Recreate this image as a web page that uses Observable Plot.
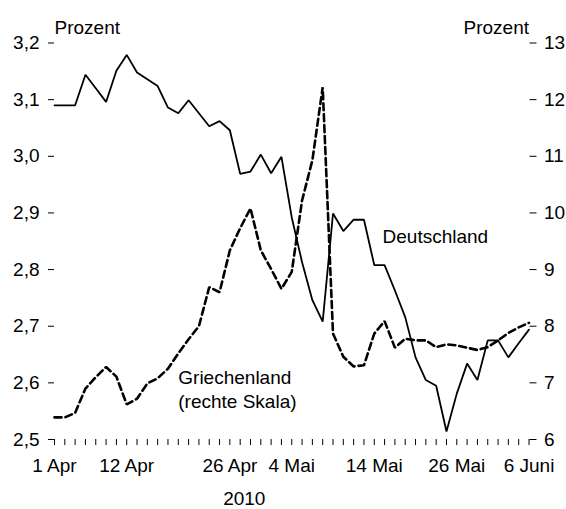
<!DOCTYPE html>
<html><head><meta charset="utf-8">
<script src="https://cdn.jsdelivr.net/npm/d3@7"></script>
<script src="https://cdn.jsdelivr.net/npm/@observablehq/plot@0.6"></script>
<style>
html,body{margin:0;padding:0;background:#fff;}
#chart svg{display:block}
</style></head><body><div id="chart"></div>
<script>
// Trading-day index 0..46 (1 Apr – early June 2010)
const deutschland = [3.090,3.090,3.090,3.144,3.120,3.096,3.151,3.179,3.148,3.136,
  3.124,3.086,3.076,3.099,3.076,3.053,3.062,3.046,2.969,2.973,
  3.003,2.970,2.999,2.892,2.813,2.746,2.708,2.899,2.868,2.888,
  2.888,2.808,2.808,2.763,2.716,2.645,2.605,2.595,2.514,2.581,
  2.634,2.605,2.675,2.675,2.645,2.670,2.694];
const griechenland = [6.39,6.39,6.47,6.90,7.10,7.28,7.11,6.62,6.72,6.99,
  7.08,7.25,7.52,7.77,8.00,8.69,8.60,9.34,9.73,10.08,
  9.34,9.01,8.66,8.96,10.22,10.93,12.22,7.87,7.46,7.29,
  7.31,7.87,8.09,7.62,7.78,7.75,7.75,7.63,7.68,7.66,
  7.62,7.58,7.63,7.75,7.88,7.98,8.06];
const xTickIdx = [0,7,17,23,31,39,46];
const xTickLabels = ["1 Apr","12 Apr","26 Apr","4 Mai","14 Mai","26 Mai","6 Juni"];
const leftTicks = [2.5,2.6,2.7,2.8,2.9,3.0,3.1,3.2];
const rightTicks = [6,7,8,9,10,11,12,13];
const yearLabel = "2010";
const unitLabel = "Prozent";
const seriesLabels = [
  {text:"Deutschland", i:31.8, v:2.847},
  {text:"Griechenland\n(rechte Skala)", i:12.0, v:2.555}
];

const FONT = '"Liberation Sans",Arial,sans-serif';
// right scale (6..13) mapped onto left scale (2.5..3.2)
const toLeft = v => 2.5 + (v - 6) / 10;
const fromLeft = v => (v - 2.5) * 10 + 6;
const rows = deutschland.map((d, i) => ({i, de: d, gr: toLeft(griechenland[i])}));
const labelMap = new Map(xTickIdx.map((d, k) => [d, xTickLabels[k]]));

const chart = Plot.plot({
  width: 566, height: 509,
  marginTop: 42.5, marginBottom: 70, marginLeft: 54, marginRight: 37.5,
  x: {domain: [0, 46]},
  y: {domain: [2.5, 3.2]},
  style: {fontFamily: FONT, fontSize: "19px", color: "#000", background: "#fff"},
  marks: [
    Plot.axisY({ticks: leftTicks, tickFormat: d => d.toFixed(1).replace(".", ","), tickSize: 6, tickPadding: 9, label: null}),
    Plot.axisY({anchor: "right", ticks: rightTicks.map(toLeft), tickFormat: d => String(Math.round(fromLeft(d))), tickSize: 7, tickPadding: 8, label: null}),
    Plot.axisX({ticks: rows.map(r => r.i), tickFormat: () => "", tickSize: 6, label: null}),
    Plot.axisX({ticks: xTickIdx, tickFormat: d => labelMap.get(d), tickSize: 0, tickPadding: 19, label: null}),
    Plot.line(rows, {x: "i", y: "gr", stroke: "#000", strokeWidth: 2.6, strokeDasharray: "7,4", strokeLinejoin: "miter"}),
    Plot.line(rows, {x: "i", y: "de", stroke: "#000", strokeWidth: 1.8, strokeLinejoin: "miter"}),
    Plot.text(seriesLabels, {x: "i", y: "v", text: "text", textAnchor: "start", lineAnchor: "bottom", lineHeight: 1.3, fill: "#000"}),
    Plot.text([unitLabel], {frameAnchor: "top-left", textAnchor: "start", lineAnchor: "bottom", dy: -9, fill: "#000"}),
    Plot.text([unitLabel], {frameAnchor: "top-right", textAnchor: "end", lineAnchor: "bottom", dy: -9, fill: "#000"}),
    Plot.text([yearLabel], {x: [18.4], frameAnchor: "bottom", lineAnchor: "bottom", dy: 65, fill: "#000"})
  ]
});
document.getElementById("chart").appendChild(chart);
</script>
</body></html>
